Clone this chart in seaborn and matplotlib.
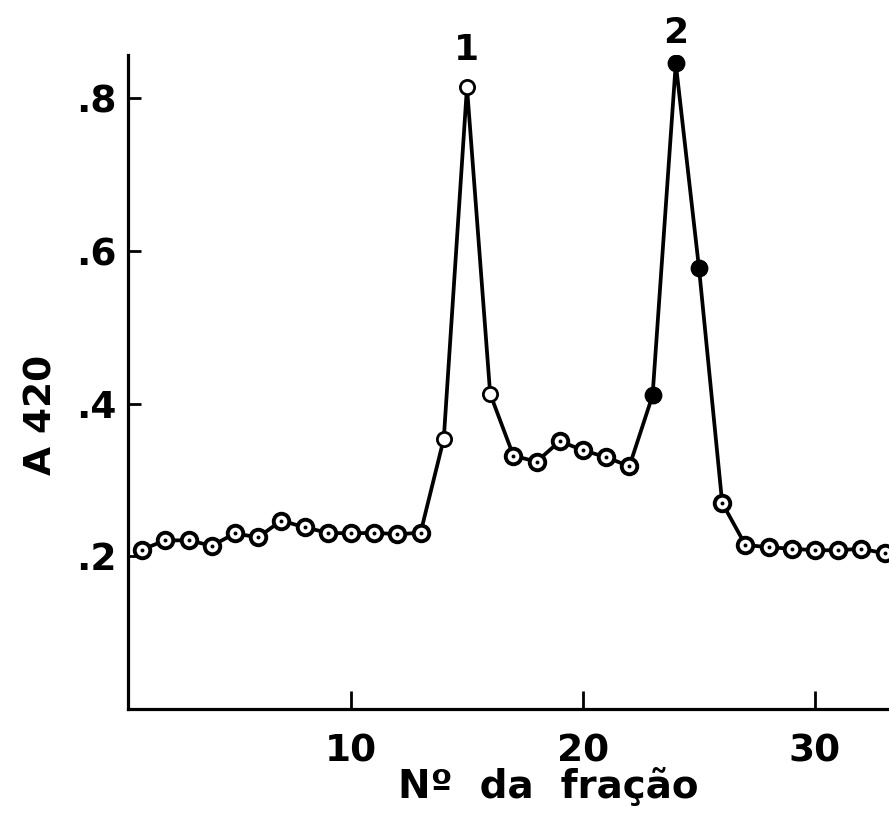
import numpy as np
import pandas as pd
import matplotlib
matplotlib.use("Agg")
import matplotlib.pyplot as plt
import seaborn as sns

# Fraction number and absorbance at 420 nm
fracao = list(range(1, 34))
absorbancia = [0.209, 0.221, 0.221, 0.214, 0.230, 0.225, 0.247, 0.238, 0.231,
               0.230, 0.231, 0.229, 0.231, 0.354, 0.815, 0.413, 0.332, 0.324,
               0.351, 0.339, 0.330, 0.318, 0.411, 0.846, 0.578, 0.270, 0.215,
               0.212, 0.210, 0.208, 0.208, 0.210, 0.204]
# marker kind per fraction: base (dotted ring), pico1 (open), pico2 (filled)
tipo = (["base"] * 13 + ["pico1"] * 3 + ["base"] * 6 + ["pico2"] * 3 + ["base"] * 8)

x_ticks = [10, 20, 30]
y_ticks = [0.2, 0.4, 0.6, 0.8]
y_ticklabels = [".2", ".4", ".6", ".8"]
picos = [("1", 15), ("2", 24)]

df = pd.DataFrame({"fracao": fracao, "A420": absorbancia, "tipo": tipo})

sns.set_style("ticks")
plt.rcParams["font.family"] = ["DejaVu Sans"]
plt.rcParams["font.weight"] = "bold"
plt.rcParams["text.color"] = "black"
plt.rcParams["xtick.color"] = "black"
plt.rcParams["ytick.color"] = "black"

fig = plt.figure(figsize=(8.89, 8.18), dpi=100)
ax = fig.add_axes([128 / 889, 109 / 818, 1 - 128 / 889, (709 - 55) / 818])

sns.lineplot(data=df, x="fracao", y="A420", ax=ax, color="black",
             linewidth=2.7, zorder=2, estimator=None, sort=True)

base = df[df.tipo == "base"]
p1 = df[df.tipo == "pico1"]
p2 = df[df.tipo == "pico2"]

sns.scatterplot(data=base, x="fracao", y="A420", ax=ax, s=125, color="white",
                edgecolor="black", linewidth=2.8, zorder=3)
sns.scatterplot(data=base, x="fracao", y="A420", ax=ax, s=8, color="black",
                edgecolor="black", linewidth=0, zorder=4)
sns.scatterplot(data=p1, x="fracao", y="A420", ax=ax, s=105, color="white",
                edgecolor="black", linewidth=2.0, zorder=3)
sns.scatterplot(data=p2, x="fracao", y="A420", ax=ax, s=140, color="black",
                edgecolor="black", linewidth=1.0, zorder=3)

for rotulo, f in picos:
    yv = df.loc[df.fracao == f, "A420"].iloc[0]
    ax.annotate(rotulo, xy=(f, yv), xytext=(0, 27 if rotulo == "1" else 22),
                textcoords="offset points", ha="center", va="center",
                fontsize=26, fontweight="bold", color="black")

ax.set_xlim(0.39, 33.19)
ax.set_ylim(0, 0.857)
ax.set_xticks(x_ticks)
ax.set_xticklabels([str(t) for t in x_ticks])
ax.set_yticks(y_ticks)
ax.set_yticklabels(y_ticklabels)

for s in ["top", "right"]:
    ax.spines[s].set_visible(False)
for s in ["left", "bottom"]:
    ax.spines[s].set_linewidth(2.3)
    ax.spines[s].set_color("black")

ax.tick_params(axis="x", direction="in", length=13, width=2, pad=18,
               labelsize=27, colors="black")
ax.tick_params(axis="y", direction="in", length=9, width=2, pad=8,
               labelsize=27, colors="black")
for lab in ax.get_xticklabels() + ax.get_yticklabels():
    lab.set_fontweight("bold")

ax.set_xlabel("")
ax.set_ylabel("")
fig.text(548 / 889, 1 - 787 / 818, "Nº  da  fração", ha="center", va="center",
         fontsize=28, fontweight="bold", color="black")
fig.text(41 / 889, 1 - 415 / 818, "A 420", ha="center", va="center",
         rotation=90, fontsize=27, fontweight="bold", color="black")

fig.savefig("out.png", dpi=100)
